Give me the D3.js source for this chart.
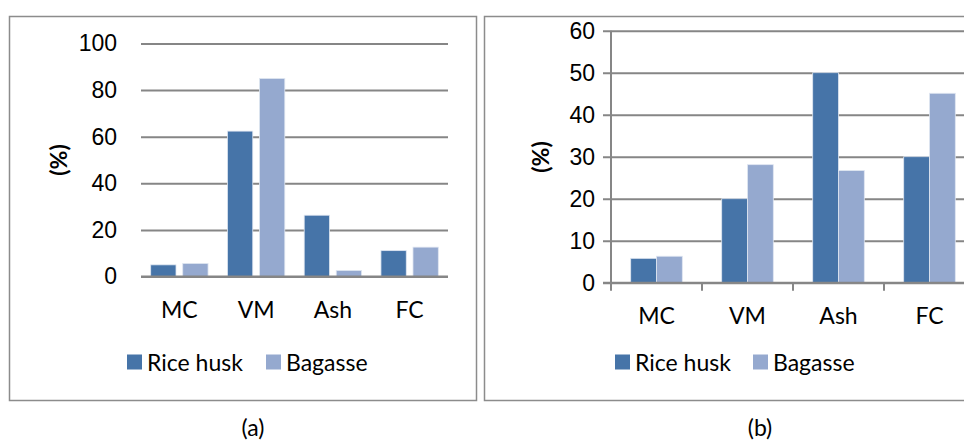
<!DOCTYPE html>
<html>
<head>
<meta charset="utf-8">
<script src="https://cdn.jsdelivr.net/npm/d3@7"></script>
<style>
  body { margin: 0; background: #fff; }
  svg { display: block; font-family: "Lato", "Open Sans", sans-serif; }
</style>
</head>
<body>
<svg id="chart" width="964" height="441"></svg>
<script>
// data
const categories = ["MC", "VM", "Ash", "FC"];
const seriesNames = ["Rice husk", "Bagasse"];
const riceHuskA = [5.0, 62.4, 26.3, 11.1];
const bagasseA = [5.6, 85.0, 2.6, 12.6];
const riceHuskB = [5.8, 20.0, 50.0, 30.0];
const bagasseB = [6.3, 28.1, 26.7, 45.1];
const ticksA = [0, 20, 40, 60, 80, 100];
const ticksB = [0, 10, 20, 30, 40, 50, 60];

const colors = { "Rice husk": "#4674a8", "Bagasse": "#95a9cf" };
const gridColor = "#868686";
const fontSize = "23px";

const svg = d3.select("#chart");

function drawPanel(opt) {
  const g = svg.append("g");

  // outer frame
  g.append("rect")
    .attr("x", opt.frame[0]).attr("y", opt.frame[1])
    .attr("width", opt.frame[2]).attr("height", opt.frame[3])
    .attr("fill", "none").attr("stroke", "#8c8c8c").attr("stroke-width", 1.5);

  const y = d3.scaleLinear().domain(opt.yDomain).range([opt.y0, opt.yTop]);
  const x = d3.scaleBand().domain(categories).range([opt.x0, opt.x1]);
  const xs = d3.scaleBand().domain(seriesNames)
    .range([opt.outer, x.bandwidth() - opt.outer])
    .paddingInner(opt.innerPad);

  // gridlines + tick labels
  const yAxis = g.append("g")
    .attr("transform", `translate(${opt.x0}, 0)`)
    .call(d3.axisLeft(y).tickValues(opt.ticks)
      .tickSize(-(opt.x1 - opt.x0)).tickSizeOuter(0).tickPadding(opt.tickPad));
  yAxis.select(".domain").remove();
  yAxis.selectAll(".tick line")
    .attr("stroke", gridColor).attr("stroke-width", 2)
    .attr("x1", -opt.tickOut);
  yAxis.selectAll(".tick text")
    .attr("fill", "#000").style("font-size", fontSize);

  // bars
  const rows = categories.map((c, i) => ({ cat: c, vals: [opt.s1[i], opt.s2[i]] }));
  g.selectAll(".grp")
    .data(rows)
    .join("g")
    .attr("transform", d => `translate(${x(d.cat)}, 0)`)
    .selectAll("rect")
    .data(d => d.vals.map((v, k) => ({ key: seriesNames[k], value: v })))
    .join("rect")
    .attr("x", d => xs(d.key))
    .attr("width", xs.bandwidth())
    .attr("y", d => y(d.value))
    .attr("height", d => y(0) - y(d.value))
    .attr("fill", d => colors[d.key])
    .attr("stroke", "#dfe6f1").attr("stroke-width", 0.8);

  // zero line
  g.append("line")
    .attr("x1", opt.x0 - opt.tickOut).attr("x2", opt.x1)
    .attr("y1", y(0)).attr("y2", y(0))
    .attr("stroke", gridColor).attr("stroke-width", 2);

  if (opt.vAxis) {
    g.append("line")
      .attr("x1", opt.x0).attr("x2", opt.x0)
      .attr("y1", y(opt.yDomain[1])).attr("y2", y(0) + 8)
      .attr("stroke", gridColor).attr("stroke-width", 2);
    categories.slice(1).forEach(c => {
      g.append("line")
        .attr("x1", x(c)).attr("x2", x(c))
        .attr("y1", y(0)).attr("y2", y(0) + 8)
        .attr("stroke", gridColor).attr("stroke-width", 2);
    });
  }

  // category labels
  g.selectAll(".cat")
    .data(categories)
    .join("text")
    .attr("x", d => x(d) + x.bandwidth() / 2)
    .attr("y", opt.catY)
    .attr("text-anchor", "middle")
    .attr("dominant-baseline", "central")
    .style("font-size", fontSize)
    .text(d => d);

  // y label
  g.append("text")
    .attr("transform", `translate(${opt.yLabel[0]}, ${opt.yLabel[1]}) rotate(-90)`)
    .attr("text-anchor", "middle")
    .attr("dominant-baseline", "central")
    .style("font-size", fontSize).style("font-weight", "bold")
    .text("(%)");

  // legend
  seriesNames.forEach((s, i) => {
    const lx = opt.legend[i];
    g.append("rect")
      .attr("x", lx).attr("y", opt.legendY - 7.5)
      .attr("width", 15).attr("height", 15)
      .attr("fill", colors[s]);
    g.append("text")
      .attr("x", lx + 20).attr("y", opt.legendY)
      .attr("dominant-baseline", "central")
      .style("font-size", fontSize)
      .text(s);
  });

  // caption
  svg.append("text")
    .attr("x", opt.caption[0]).attr("y", opt.caption[1])
    .attr("text-anchor", "middle")
    .attr("dominant-baseline", "central")
    .style("font-size", fontSize)
    .text(opt.captionText);
}

drawPanel({
  frame: [9.5, 16.5, 467, 384],
  yDomain: [0, 100], ticks: ticksA,
  y0: 276.5, yTop: 43.5, x0: 141, x1: 448,
  outer: 9.7, innerPad: 0.21, tickPad: 24, tickOut: 0,
  s1: riceHuskA, s2: bagasseA,
  catY: 309, yLabel: [58, 160],
  legend: [127, 266], legendY: 362,
  caption: [253, 427], captionText: "(a)",
  vAxis: false
});

drawPanel({
  frame: [484.5, 16.5, 500, 384],
  yDomain: [0, 60], ticks: ticksB,
  y0: 282.7, yTop: 30.7, x0: 611, x1: 975,
  outer: 19.7, innerPad: 0, tickPad: 16, tickOut: 8,
  s1: riceHuskB, s2: bagasseB,
  catY: 315, yLabel: [540, 157],
  legend: [615, 753], legendY: 362,
  caption: [760, 427], captionText: "(b)",
  vAxis: true
});
</script>
</body>
</html>
